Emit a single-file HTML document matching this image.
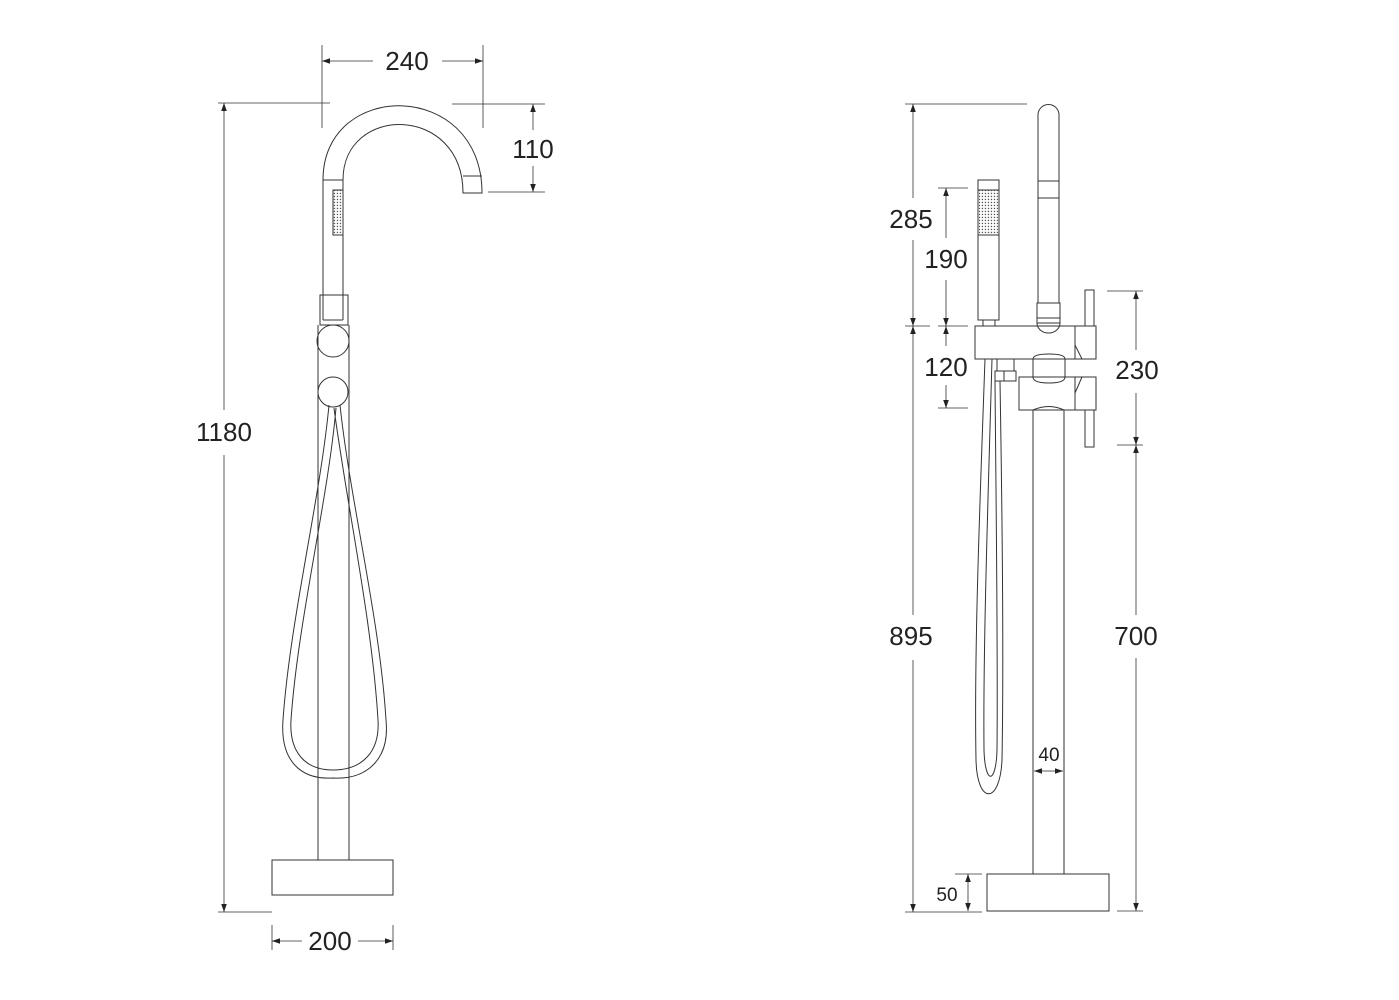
<!DOCTYPE html>
<html><head><meta charset="utf-8"><style>
html,body{margin:0;padding:0;background:#fff;}
svg{display:block;}
text{font-family:"Liberation Sans",sans-serif;fill:#222;}
</style></head><body>
<svg width="1399" height="1000" viewBox="0 0 1399 1000" xmlns="http://www.w3.org/2000/svg">
<defs>
<marker id="a" viewBox="0 0 10 10" refX="10" refY="5" markerWidth="8" markerHeight="8" orient="auto-start-reverse" markerUnits="userSpaceOnUse"><path d="M0,1.5 L10,5 L0,8.5 z" fill="#222"/></marker>
<pattern id="dots" width="3" height="3" patternUnits="userSpaceOnUse"><rect x="0.8" y="0.8" width="1.3" height="1.3" fill="#555"/></pattern>
</defs>
<g fill="none" stroke="#333" stroke-width="1">
<path d="M323,320 L323,180 C323,79 482,79 482,193 L463,193 C463,104 343,104 343,180 L343,320"/>
<line x1="323" y1="180" x2="343" y2="180"/>
<line x1="463" y1="176" x2="482" y2="176"/>
<rect x="333" y="190" width="10" height="45" fill="url(#dots)"/>
<rect x="320" y="295" width="28" height="30"/>
<line x1="323" y1="320" x2="343" y2="320"/>
<circle cx="333" cy="341" r="16" fill="#fff"/>
<circle cx="333" cy="392" r="15"/>
<line x1="318" y1="325" x2="318" y2="860"/>
<line x1="349" y1="325" x2="349" y2="860"/>
<rect x="272" y="860" width="121" height="35" fill="#fff"/>
<path d="M329,405 C320,500 290,620 283,720 C280,760 300,780 333,778 C366,780 390,760 386,720 C380,620 350,500 340,405"/>
<path d="M336,408 C328,500 298,620 291,720 C289,752 305,770 333,770 C362,770 380,752 378,720 C372,620 346,500 334,408"/>
<line x1="218" y1="103" x2="330" y2="103" stroke-width="0.8"/>
<line x1="218" y1="912" x2="272" y2="912" stroke-width="0.8"/>
<line x1="224" y1="103" x2="224" y2="410" marker-start="url(#a)" stroke-width="0.8"/>
<line x1="224" y1="455" x2="224" y2="912" marker-end="url(#a)" stroke-width="0.8"/>
<line x1="322" y1="45" x2="322" y2="128" stroke-width="0.8"/>
<line x1="483" y1="45" x2="483" y2="128" stroke-width="0.8"/>
<line x1="322" y1="61" x2="373" y2="61" marker-start="url(#a)" stroke-width="0.8"/>
<line x1="442" y1="61" x2="483" y2="61" marker-end="url(#a)" stroke-width="0.8"/>
<line x1="452" y1="104" x2="545" y2="104" stroke-width="0.8"/>
<line x1="488" y1="192" x2="545" y2="192" stroke-width="0.8"/>
<line x1="533" y1="104" x2="533" y2="130" marker-start="url(#a)" stroke-width="0.8"/>
<line x1="533" y1="166" x2="533" y2="192" marker-end="url(#a)" stroke-width="0.8"/>
<line x1="272" y1="925" x2="272" y2="950" stroke-width="0.8"/>
<line x1="393" y1="925" x2="393" y2="950" stroke-width="0.8"/>
<line x1="272" y1="941" x2="302" y2="941" marker-start="url(#a)" stroke-width="0.8"/>
<line x1="358" y1="941" x2="393" y2="941" marker-end="url(#a)" stroke-width="0.8"/>

<rect x="978" y="180" width="21" height="140"/>
<rect x="979" y="190" width="19" height="45" fill="url(#dots)" stroke="none"/>
<line x1="978" y1="235" x2="999" y2="235"/>
<line x1="978" y1="190" x2="999" y2="190"/>
<rect x="983" y="320" width="12" height="6"/>
<path d="M1038,303 L1038,115 A10.5,10.5 0 0 1 1059,115 L1059,303"/>
<rect x="1038" y="181" width="21" height="17"/>
<rect x="1037" y="303" width="23" height="20"/>
<line x1="1037" y1="318" x2="1060" y2="318"/>
<path d="M1037,323 A11.5,10 0 0 0 1060,323"/>
<rect x="975" y="326" width="100" height="33" fill="none"/>
<rect x="1075" y="326" width="21" height="33"/>
<rect x="1085" y="290" width="9" height="36"/>
<path d="M1075,345 L1082,359"/>
<rect x="1019" y="377" width="56" height="33"/>
<rect x="1075" y="377" width="21" height="33"/>
<rect x="1085" y="410" width="9" height="37"/>
<path d="M1075,393 L1082,377"/>
<path d="M1033,359 Q1033,354 1049,354 Q1065,354 1065,359 L1065,377 Q1065,383 1049,383 Q1033,383 1033,377 z"/>
<rect x="997" y="359" width="17" height="12"/>
<rect x="995" y="371" width="21" height="10"/>
<line x1="1004" y1="371" x2="1004" y2="381"/>
<path d="M1033,874 L1033,410 Q1049,403 1064,410 L1064,874"/>
<rect x="987" y="874" width="122" height="37" fill="#fff"/>
<path d="M985,359 C980,500 974,650 976,760 C977,805 1000,805 1002,760 C1004,650 1002,500 1000,381"/>
<path d="M992,359 C988,500 983,650 984,750 C985,785 996,785 997,750 C998,650 996,500 995,381"/>
<line x1="905" y1="104" x2="1027" y2="104" stroke-width="0.8"/>
<line x1="913" y1="104" x2="913" y2="198" marker-start="url(#a)" stroke-width="0.8"/>
<line x1="913" y1="240" x2="913" y2="326" marker-end="url(#a)" stroke-width="0.8"/>
<line x1="905" y1="326" x2="930" y2="326" stroke-width="0.8"/>
<line x1="938" y1="326" x2="968" y2="326" stroke-width="0.8"/>
<line x1="913" y1="326" x2="913" y2="615" marker-start="url(#a)" stroke-width="0.8"/>
<line x1="913" y1="660" x2="913" y2="912" marker-end="url(#a)" stroke-width="0.8"/>
<line x1="905" y1="912" x2="982" y2="912" stroke-width="0.8"/>
<line x1="938" y1="188" x2="968" y2="188" stroke-width="0.8"/>
<line x1="946" y1="188" x2="946" y2="238" marker-start="url(#a)" stroke-width="0.8"/>
<line x1="946" y1="280" x2="946" y2="326" marker-end="url(#a)" stroke-width="0.8"/>
<line x1="946" y1="326" x2="946" y2="346" marker-start="url(#a)" stroke-width="0.8"/>
<line x1="946" y1="385" x2="946" y2="408" marker-end="url(#a)" stroke-width="0.8"/>
<line x1="938" y1="408" x2="968" y2="408" stroke-width="0.8"/>
<line x1="1107" y1="291" x2="1143" y2="291" stroke-width="0.8"/>
<line x1="1117" y1="445" x2="1143" y2="445" stroke-width="0.8"/>
<line x1="1117" y1="911" x2="1143" y2="911" stroke-width="0.8"/>
<line x1="1136" y1="291" x2="1136" y2="350" marker-start="url(#a)" stroke-width="0.8"/>
<line x1="1136" y1="393" x2="1136" y2="445" marker-end="url(#a)" stroke-width="0.8"/>
<line x1="1136" y1="445" x2="1136" y2="615" marker-start="url(#a)" stroke-width="0.8"/>
<line x1="1136" y1="658" x2="1136" y2="911" marker-end="url(#a)" stroke-width="0.8"/>
<line x1="1034" y1="771" x2="1049" y2="771" marker-start="url(#a)" stroke-width="0.8"/>
<line x1="1049" y1="771" x2="1063" y2="771" marker-end="url(#a)" stroke-width="0.8"/>
<line x1="955" y1="874" x2="982" y2="874" stroke-width="0.8"/>
<line x1="968" y1="874" x2="968" y2="892" marker-start="url(#a)" stroke-width="0.8"/>
<line x1="968" y1="892" x2="968" y2="911" marker-end="url(#a)" stroke-width="0.8"/>
</g>
<g font-size="26" text-anchor="middle">
<text x="407" y="70">240</text>
<text x="533" y="158">110</text>
<text x="224" y="441">1180</text>
<text x="330" y="950">200</text>
<text x="911" y="228">285</text>
<text x="946" y="268">190</text>
<text x="946" y="376">120</text>
<text x="1137" y="379">230</text>
<text x="911" y="645">895</text>
<text x="1136" y="645">700</text>
</g>
<g font-size="19" text-anchor="middle">
<text x="1049" y="761">40</text>
<text x="947" y="901">50</text>
</g>
</svg>
</body></html>
